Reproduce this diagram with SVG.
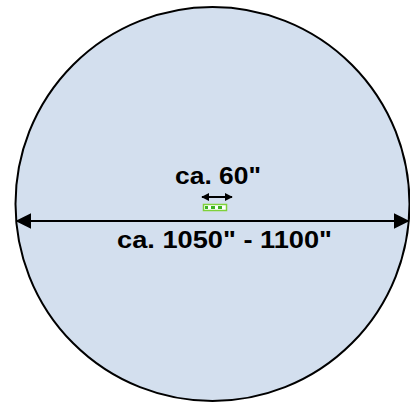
<svg xmlns="http://www.w3.org/2000/svg" width="410" height="403" viewBox="0 0 410 403">
<defs>
<style>
.lbl{font-family:"Liberation Sans",Arial,sans-serif;font-weight:bold;font-size:23.5px;fill:#000}
.conn{stroke:#000;stroke-width:2;fill:none}
</style>
<marker id="ah" viewBox="0 0 10 10" refX="9" refY="5" markerWidth="8" markerHeight="8" markerUnits="userSpaceOnUse" orient="auto-start-reverse"><path d="M0,0L10,5L0,10z" fill="#000"/></marker>
<marker id="ahBig" viewBox="0 0 10 10" refX="9" refY="5" markerWidth="16" markerHeight="16" markerUnits="userSpaceOnUse" orient="auto-start-reverse"><path d="M0,0L10,5L0,10z" fill="#000"/></marker>
</defs>
<rect width="410" height="403" fill="#fff"/>
<g id="circle">
<circle cx="212.5" cy="204" r="197" fill="#D3DFEE" stroke="#000" stroke-width="2"/>
</g>
<g id="item">
<rect x="203.5" y="204.5" width="23" height="6" fill="#fff" stroke="#7FD13B" stroke-width="1.5"/>
<line x1="205" y1="207.5" x2="225" y2="207.5" stroke="#3CB322" stroke-width="3" stroke-dasharray="4,3" stroke-dashoffset="1"/>
</g>
<g id="connectors">
<line class="conn" x1="17" y1="221" x2="408" y2="221" marker-start="url(#ahBig)" marker-end="url(#ahBig)"/>
<line class="conn" x1="202" y1="197" x2="232" y2="197" marker-start="url(#ah)" marker-end="url(#ah)"/>
</g>
<g id="labels">
<text class="lbl" x="175" y="184" textLength="86" lengthAdjust="spacingAndGlyphs">ca. 60"</text>
<text class="lbl" x="117" y="248" textLength="215" lengthAdjust="spacingAndGlyphs">ca. 1050" - 1100"</text>
</g>
</svg>
